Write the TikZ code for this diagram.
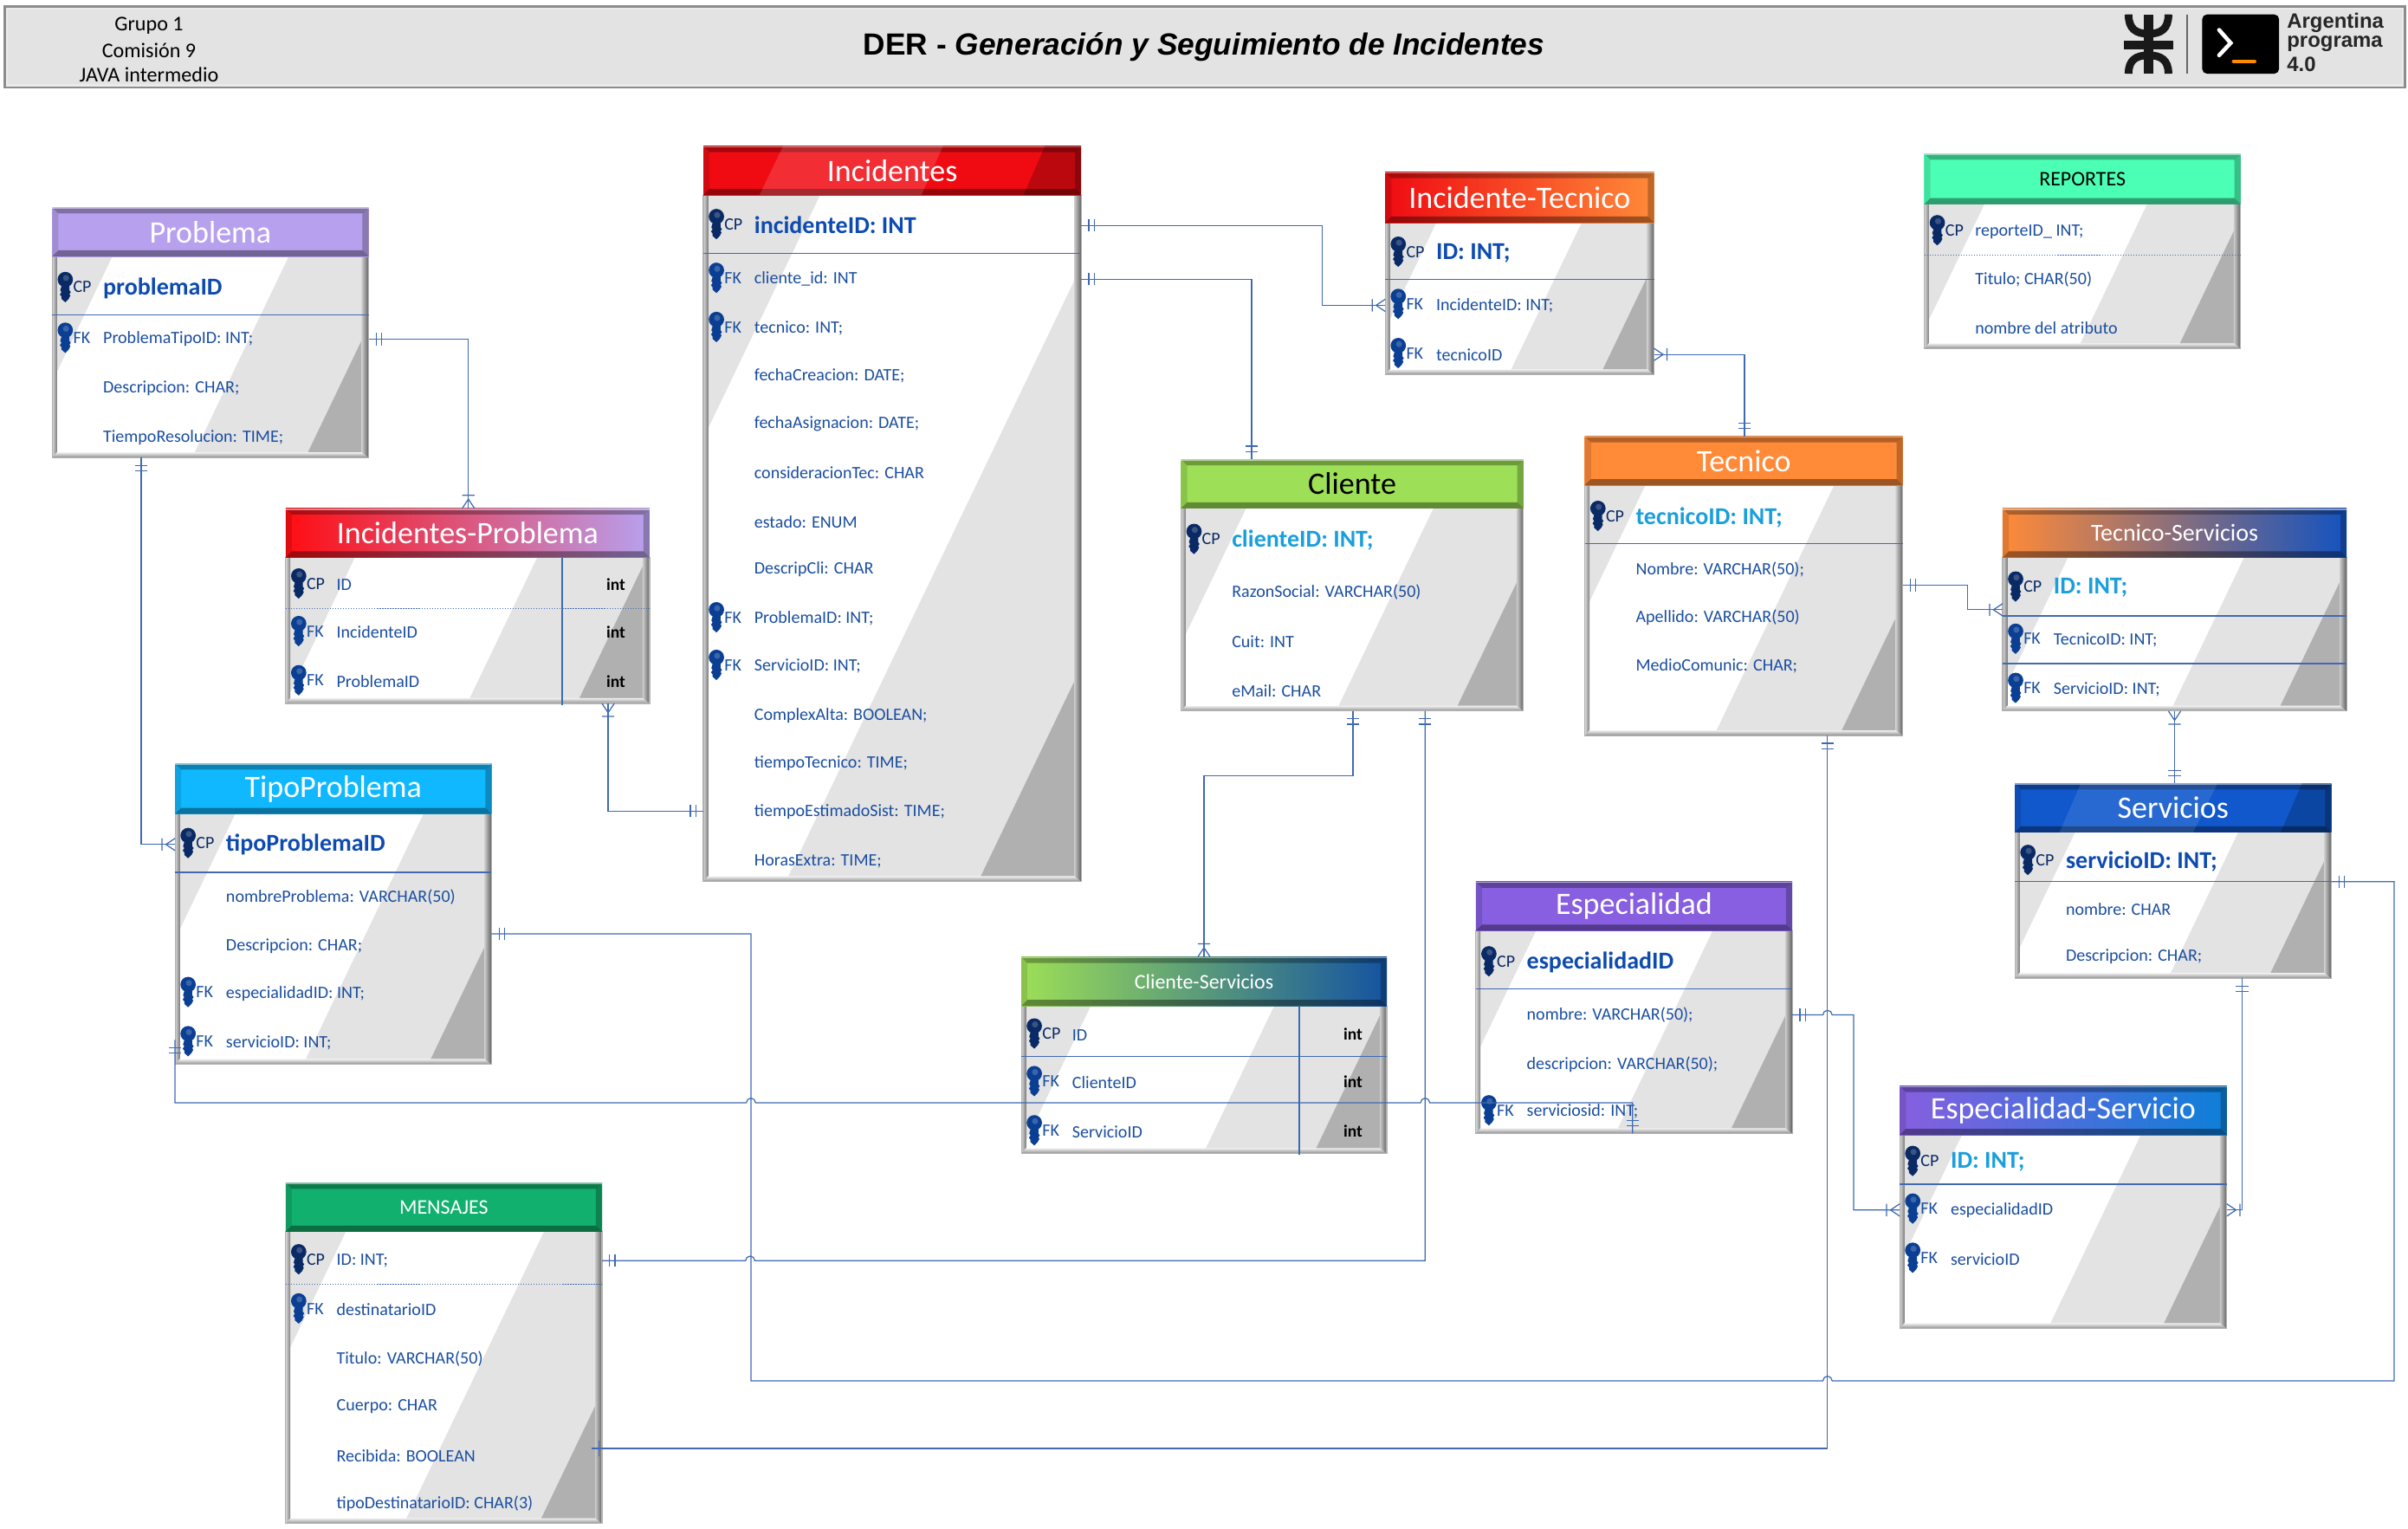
\documentclass[tikz,border=0pt]{standalone}
\usepackage{fontspec}
\setmainfont{Carlito}
\newfontfamily\fuenteTitulo{Liberation Sans}
\definecolor{azulLinea}{HTML}{3F6AB2}
\definecolor{azulCampo}{HTML}{1A4EA0}
\definecolor{azulClave}{HTML}{0D4BB0}
\definecolor{celeste}{HTML}{1A9FDC}
\definecolor{llaveCP}{HTML}{0A2A66}
\definecolor{llaveFK}{HTML}{0A3F94}
\definecolor{gBrillo}{HTML}{E3E3E3}
\definecolor{gOscuro}{HTML}{B0B0B0}
\definecolor{lila}{HTML}{B7A1EE}
\definecolor{rojoT}{HTML}{F00B12}
\definecolor{rojoV}{HTML}{FF0D12}
\definecolor{naranja}{HTML}{FF8A38}
\definecolor{menta}{HTML}{4BFFB5}
\definecolor{verdeC}{HTML}{9DDF56}
\definecolor{azulT}{HTML}{1453C0}
\definecolor{azulS}{HTML}{1058CC}
\definecolor{violeta}{HTML}{875FE0}
\definecolor{azulE}{HTML}{0D7FD8}
\definecolor{cian}{HTML}{10B9FF}
\definecolor{azulV}{HTML}{1453A0}
\definecolor{verdeM}{HTML}{12B06E}
\pgfdeclarearrow{name=erUno,
  setup code={\pgfarrowssettipend{0pt}\pgfarrowssetlineend{0pt}\pgfarrowssetbackend{-9pt}\pgfarrowssetvisualbackend{-9pt}},
  drawing code={
    \pgfpathmoveto{\pgfqpoint{-5pt}{-4pt}}\pgfpathlineto{\pgfqpoint{-5pt}{4pt}}
    \pgfpathmoveto{\pgfqpoint{-8.5pt}{-4pt}}\pgfpathlineto{\pgfqpoint{-8.5pt}{4pt}}
    \pgfusepathqstroke}}
\pgfdeclarearrow{name=erMuchos,
  setup code={\pgfarrowssettipend{0pt}\pgfarrowssetlineend{0pt}\pgfarrowssetbackend{-9pt}\pgfarrowssetvisualbackend{-9pt}},
  drawing code={
    \pgfpathmoveto{\pgfqpoint{0pt}{-4pt}}\pgfpathlineto{\pgfqpoint{-6pt}{0pt}}\pgfpathlineto{\pgfqpoint{0pt}{4pt}}
    \pgfpathmoveto{\pgfqpoint{-8.5pt}{-4pt}}\pgfpathlineto{\pgfqpoint{-8.5pt}{4pt}}
    \pgfusepathqstroke}}
\pgfdeclarearrow{name=erTick,
  setup code={\pgfarrowssettipend{0pt}\pgfarrowssetlineend{0pt}\pgfarrowssetbackend{-6pt}\pgfarrowssetvisualbackend{-6pt}},
  drawing code={
    \pgfpathmoveto{\pgfqpoint{-5pt}{-5pt}}\pgfpathlineto{\pgfqpoint{-5pt}{5pt}}
    \pgfusepathqstroke}}
\tikzset{
  conn/.style={draw=azulLinea, line width=.7pt},
  llave/.pic={
    \path[pic actions] (0,-5) circle[radius=5pt];
    \path[pic actions] (2.7,-1) -- (2.7,2) -- (3.6,3.2) -- (2.7,4.4) -- (3.3,5.5) -- (2.2,7.6) -- (0,9.8) -- (-2.5,7.6) -- (-2.5,6) -- (-3.5,4.8) -- (-2.5,3.2) -- (-3.3,2) -- (-2.4,-1) -- cycle;
    \fill[white, opacity=.2] (.5,-6) circle[radius=2pt];
  }
}
\newcommand{\tabla}[8]{
  \gdef\xizq{#2}\gdef\xder{#4}
  \pgfmathsetmacro\anchoT{#4-#2}
  \pgfmathsetmacro\altoT{#5-#3}
  \pgfmathsetmacro\altoC{#5-#6}
  \pgfmathsetmacro\altoH{#6-#3}
  \pgfmathsetmacro\pata{max(.19*\anchoT,.17*\altoC)}
  \pgfmathsetmacro\pataO{max(.2*\anchoT,.15*\altoC)}
  \pgfmathsetmacro\cenX{(#2+#4)/2}
  \pgfmathsetmacro\cenY{(#5+#6)/2}
  \pgfmathsetmacro\xArr{\cenX+.5*\pata+.48*\altoC/2}
  \pgfmathsetmacro\xAba{\cenX+.5*\pata-.48*\altoC/2}
  \pgfmathsetmacro\vert{\pata/.48}
  \pgfmathsetmacro\vertO{\pataO/.48}
  \node[cuerpo, minimum width=\anchoT pt, minimum height=\altoT pt] (#1) at (\cenX,{(#3+#5)/2}) {};
  \begin{scope}
    \clip (#2,#6) rectangle (#4,#5);
    \fill[gBrillo] (\xArr,#6) -- (\xAba,#5) -- (#4+600,#5) -- (#4+600,#6) -- cycle;
    \fill[gBrillo] (#2,#6) -- (#2+\pata,#6) -- (#2,#6+\vert) -- cycle;
    \fill[gOscuro] (#4,#5) -- (#4-\pataO,#5) -- (#4,#5-\vertO) -- cycle;
  \end{scope}
  \shade[left color=black!15, right color=black!50] (#2,#6) rectangle (#2+3,#5);
  \shade[left color=black!20, right color=black!62] (#4-4.5,#6) rectangle (#4,#5);
  \shade[top color=black!6, bottom color=black!45] (#2,#5) -- (#2+3,#5-3.5) -- (#4-4.5,#5-3.5) -- (#4,#5) -- cycle;
  \draw[black!30, line width=.6pt] (#2,#6) rectangle (#4,#5);
  \node[cabecera, left color=#7, right color=#8, minimum width=\anchoT pt, minimum height=\altoH pt] (#1H) at (\cenX,{(#3+#6)/2}) {};
  \fill[black, opacity=.3] (#2,#3) -- (#2+4,#3+4) -- (#4-4,#3+4) -- (#4,#3) -- cycle;
  \fill[black, opacity=.38] (#2,#6) -- (#2+4,#6-4) -- (#4-4,#6-4) -- (#4,#6) -- cycle;
  \fill[black, opacity=.12] (#2,#3) -- (#2+4,#3+4) -- (#2+4,#6-4) -- (#2,#6) -- cycle;
  \fill[black, opacity=.25] (#4,#3) -- (#4-4,#3+4) -- (#4-4,#6-4) -- (#4,#6) -- cycle;
  \draw[white, opacity=.5, line width=.9pt] (#2,#3+.5) -- (#4,#3+.5);
}
\newcommand{\campo}[3]{\node[campotxt] (#1) at (\xizq+33,#2+.8) {#3};}
\newcommand{\llavecp}[1]{
  \pic[fill=llaveCP] at (\xizq+8.5,#1) {llave};
  \node[etiq, text=llaveCP] at (\xizq+13.5,#1) {CP};}
\newcommand{\llavefk}[1]{
  \pic[fill=llaveFK] at (\xizq+8.5,#1) {llave};
  \node[etiq, text=azulCampo] at (\xizq+13.5,#1) {FK};}
\newcommand{\cpn}[3]{\llavecp{#2}\campo{#1}{#2}{#3}}
\newcommand{\fk}[3]{\llavefk{#2}\campo{#1}{#2}{#3}}
\newcommand{\pk}[3]{\llavecp{#2}\node[clavetxt] (#1) at (\xizq+33,#2+.8) {#3};}
\newcommand{\pkc}[3]{\llavecp{#2}\node[clavetxt, text=celeste] (#1) at (\xizq+33,#2+.8) {#3};}
\newcommand{\sep}[1]{\draw[conn] (\xizq,#1) -- (\xder,#1);}
\newcommand{\sepd}[1]{\draw[conn, densely dotted, line width=.6pt] (\xizq,#1) -- (\xder,#1);}

\begin{document}
\begin{tikzpicture}[x=1pt, y=-1pt]
\tikzstyle{cuerpo} = [rectangle, fill=white, inner sep=0pt, outer sep=0pt]
\tikzstyle{cabecera} = [rectangle, inner sep=0pt, outer sep=0pt]
\tikzstyle{titulo} = [text=white, font=\fontsize{20.3}{20}\selectfont, inner sep=0pt]
\tikzstyle{tituloN} = [text=black, font=\fontsize{20.3}{20}\selectfont, inner sep=0pt]
\tikzstyle{tituloS} = [text=white, font=\fontsize{13.5}{14}\selectfont, inner sep=0pt]
\tikzstyle{campotxt} = [anchor=west, text=azulCampo, inner sep=0pt, font=\fontsize{11.3}{12}\selectfont]
\tikzstyle{clavetxt} = [anchor=west, text=azulClave, inner sep=0pt, font=\fontsize{15.8}{16}\selectfont\bfseries]
\tikzstyle{etiq} = [anchor=west, inner sep=0pt, font=\fontsize{11.3}{12}\selectfont]
\tikzstyle{tipoint} = [text=black, inner sep=0pt, font=\fontsize{11}{12}\selectfont\bfseries]
\tikzstyle{grupo} = [text=black, inner sep=0pt, font=\fontsize{13.6}{14}\selectfont]
\tikzstyle{logotxt} = [anchor=west, text=black!85, inner sep=0pt, font=\fuenteTitulo\bfseries\fontsize{13.5}{13}\selectfont]

\useasboundingbox (0,0) rectangle (1568,994.96);

\node[rectangle, fill=gBrillo, draw=black!45, line width=1.6pt, minimum width=1563pt, minimum height=53pt, inner sep=0pt] (banda) at (784.5,30.5) {};
\draw[white!92!black, line width=1.4pt] (4.5,5.5) rectangle (1564.5,55.5);
\node[grupo] (grupoA) at (97,16.8) {Grupo 1};
\node[grupo] (grupoB) at (97,32.8) {Comisión 9};
\node[grupo] (grupoC) at (97,48.8) {JAVA intermedio};
\node[inner sep=0pt, font=\fuenteTitulo\bfseries\fontsize{19.9}{20}\selectfont] (tituloDer) at (784,30.5) {DER - \itshape Generación y Seguimiento de Incidentes};

\fill[black!90] (1396,9.4) rectangle (1402,48);
\fill[black!90] (1383,26.5) rectangle (1415,32);
\draw[black!90, line width=5pt] (1386,9.4) .. controls (1386,19) and (1391,22) .. (1399,22) .. controls (1407,22) and (1412,19) .. (1412,9.4);
\draw[black!90, line width=5pt] (1386,48) .. controls (1386,39) and (1391,36) .. (1399,36) .. controls (1407,36) and (1412,39) .. (1412,48);
\draw[black!60, line width=.9pt] (1424,9.4) -- (1424,48);
\node[rectangle, rounded corners=3pt, fill=black, minimum width=50pt, minimum height=38.5pt, inner sep=0pt] (terminal) at (1459,28.7) {};
\draw[white, line width=2.6pt, line cap=round] (1445,19.5) -- (1452.5,28) -- (1445,36);
\draw[orange!90!yellow, line width=2.6pt, line cap=round] (1454.5,40) -- (1468,40);
\node[logotxt] (logoA) at (1489,15) {Argentina};
\node[logotxt] (logoB) at (1489,28.5) {programa};
\node[logotxt] (logoC) at (1489,42) {4.0};

\tabla{problema}{34}{135}{240}{298}{167}{lila}{lila}
\node[titulo] (problemaT) at (problemaH) {Problema};
\sep{205}
\pk{prob1}{187}{problemaID}
\fk{prob2}{220}{ProblemaTipoID: INT;}
\campo{prob3}{252}{Descripcion: CHAR;}
\campo{prob4}{284}{TiempoResolucion: TIME;}

\tabla{incidentes}{458}{95}{704}{574}{127}{rojoT}{rojoT}
\fill[white, opacity=.14] (510,95) -- (494.5,127) -- (600,127) -- (614,95) -- cycle;
\fill[black, opacity=.22] (680.5,95) -- (666.5,127) -- (704,127) -- (704,95) -- cycle;
\node[titulo] (incidentesT) at (incidentesH) {Incidentes};
\sep{165}
\pk{inc1}{146}{incidenteID: INT}
\fk{inc2}{181}{cliente\_id: INT}
\fk{inc3}{213}{tecnico: INT;}
\campo{inc4}{244}{fechaCreacion: DATE;}
\campo{inc5}{275}{fechaAsignacion: DATE;}
\campo{inc6}{307}{consideracionTec: CHAR}
\campo{inc7}{339}{estado: ENUM}
\campo{inc8}{370}{DescripCli: CHAR}
\fk{inc9}{402}{ProblemaID: INT;}
\fk{inc10}{433}{ServicioID: INT;}
\campo{inc11}{465}{ComplexAlta: BOOLEAN;}
\campo{inc12}{496}{tiempoTecnico: TIME;}
\campo{inc13}{528}{tiempoEstimadoSist: TIME;}
\campo{inc14}{560}{HorasExtra: TIME;}

\tabla{incidenteTecnico}{902}{112}{1077}{244}{145}{rojoT}{naranja}
\node[titulo] (incidenteTecnicoT) at (incidenteTecnicoH) {Incidente-Tecnico};
\sep{182}
\pk{itec1}{164}{ID: INT;}
\fk{itec2}{198}{IncidenteID: INT;}
\fk{itec3}{230}{tecnicoID}

\tabla{reportes}{1253}{100}{1459}{227}{133}{menta}{menta}
\node[tituloS, text=black] (reportesT) at (reportesH) {REPORTES};
\sepd{166}
\cpn{rep1}{150}{reporteID\_ INT;}
\campo{rep2}{181}{Titulo; CHAR(50)}
\campo{rep3}{213}{nombre del atributo}

\tabla{cliente}{769}{299}{992}{463}{331}{verdeC}{verdeC}
\node[tituloN] (clienteT) at (clienteH) {Cliente};
\pkc{cli1}{351}{clienteID: INT;}
\campo{cli2}{385}{RazonSocial: VARCHAR(50)}
\campo{cli3}{417}{Cuit: INT}
\campo{cli4}{449}{eMail: CHAR}

\tabla{tecnico}{1032}{284}{1239}{479}{316}{naranja}{naranja}
\node[titulo] (tecnicoT) at (tecnicoH) {Tecnico};
\sep{354}
\pkc{tec1}{336}{tecnicoID: INT;}
\campo{tec2}{370}{Nombre: VARCHAR(50);}
\campo{tec3}{401}{Apellido: VARCHAR(50)}
\campo{tec4}{433}{MedioComunic: CHAR;}

\tabla{tecnicoServicios}{1304}{331}{1528}{463}{363}{naranja}{azulT}
\node[tituloS, font=\fontsize{15.8}{16}\selectfont] (tecnicoServiciosT) at (tecnicoServiciosH) {Tecnico-Servicios};
\sep{401}
\sep{432}
\pkc{tser1}{382}{ID: INT;}
\fk{tser2}{416}{TecnicoID: INT;}
\fk{tser3}{448}{ServicioID: INT;}

\tabla{servicios}{1312}{510}{1518}{637}{542}{azulS}{azulS}
\fill[white, opacity=.1] (1355,510) -- (1341,542) -- (1428,542) -- (1444,510) -- cycle;
\fill[black, opacity=.2] (1499,510) -- (1485,542) -- (1518,542) -- (1518,510) -- cycle;
\node[titulo] (serviciosT) at (serviciosH) {Servicios};
\sep{574}
\pk{ser1}{560}{servicioID: INT;}
\campo{ser2}{591}{nombre: CHAR}
\campo{ser3}{622}{Descripcion: CHAR;}

\tabla{especialidad}{961}{574}{1167}{738}{606}{violeta}{violeta}
\node[titulo] (especialidadT) at (especialidadH) {Especialidad};
\sep{644}
\pk{esp1}{626}{especialidadID}
\campo{esp2}{660}{nombre: VARCHAR(50);}
\campo{esp3}{692}{descripcion: VARCHAR(50);}
\fk{esp4}{723}{serviciosid: INT;}

\tabla{especialidadServicio}{1237}{707}{1450}{865}{739}{violeta}{azulE}
\node[titulo] (especialidadServicioT) at (especialidadServicioH) {Especialidad-Servicio};
\sep{771}
\pkc{essr1}{756}{ID: INT;}
\fk{essr2}{787}{especialidadID}
\fk{essr3}{819}{servicioID}

\tabla{incidentesProblema}{186}{331}{423}{458}{363}{rojoV}{lila}
\node[titulo] (incidentesProblemaT) at (incidentesProblemaH) {Incidentes-Problema};
\sepd{396}
\cpn{ipr1}{380}{ID}
\fk{ipr2}{411}{IncidenteID}
\fk{ipr3}{443}{ProblemaID}
\draw[conn] (incidentesProblema.south -| 366,0) ++(0,1) -- (366,363);
\node[tipoint] (iprT1) at (401,380.5) {int};
\node[tipoint] (iprT2) at (401,411.5) {int};
\node[tipoint] (iprT3) at (401,443.5) {int};

\tabla{tipoProblema}{114}{497}{320}{693}{530}{cian}{cian}
\node[titulo] (tipoProblemaT) at (tipoProblemaH) {TipoProblema};
\sep{568}
\pk{tipo1}{549}{tipoProblemaID}
\campo{tipo2}{583}{nombreProblema: VARCHAR(50)}
\campo{tipo3}{615}{Descripcion: CHAR;}
\fk{tipo4}{646}{especialidadID: INT;}
\fk{tipo5}{678}{servicioID: INT;}

\tabla{clienteServicios}{665}{623}{903}{751}{655}{verdeC}{azulV}
\node[tituloS] (clienteServiciosT) at (clienteServiciosH) {Cliente-Servicios};
\sep{688}
\cpn{cser1}{673}{ID}
\fk{cser2}{704}{ClienteID}
\fk{cser3}{736}{ServicioID}
\draw[conn] (clienteServicios.south -| 846,0) ++(0,1) -- (846,655);
\node[tipoint] (cserT1) at (881,673.5) {int};
\node[tipoint] (cserT2) at (881,704.5) {int};
\node[tipoint] (cserT3) at (881,736.5) {int};

\tabla{mensajes}{186}{770}{392}{992}{802}{verdeM}{verdeM}
\node[tituloS] (mensajesT) at (mensajesH) {MENSAJES};
\sepd{836}
\cpn{men1}{820}{ID: INT;}
\fk{men2}{852}{destinatarioID}
\campo{men3}{884}{Titulo: VARCHAR(50)}
\campo{men4}{915}{Cuerpo: CHAR}
\campo{men5}{947}{Recibida: BOOLEAN}
\campo{men6}{978}{tipoDestinatarioID: CHAR(3)}

\coordinate (menFin) at (385,943);

\draw [conn, erUno-erMuchos] (incidentes.east |- inc1) -| (861,170) |- (incidenteTecnico.west |- itec2);
\draw [conn, erUno-erUno] (incidentes.east |- inc2) -| (cliente.north -| 815,0);
\draw [conn, erMuchos-erUno] (incidenteTecnico.east |- itec3) -| (tecnico.north -| 1136,0);
\draw [conn, erUno-erMuchos] (problema.east |- prob2) -| (incidentesProblema.north -| 305,0);
\draw [conn, erMuchos-erUno] (incidentesProblema.south -| 396,0) |- (incidentes.west |- 0,528);
\draw [conn, erUno-erMuchos] (problema.south -| 92,0) |- (tipoProblema.west |- tipo1);
\draw [conn, erUno-erMuchos] (cliente.south -| 881,0) |- (784,505) -- (clienteServicios.north);
\draw [conn, erUno-erUno] (cliente.south -| 928,0) |- (491.5,820.8) arc[start angle=0, end angle=180, radius=3pt] -- (mensajes.east |- men1);
\draw [conn, erUno-erUno] (tipoProblema.east |- 0,608) -| (489,899) -- (1187,899) arc[start angle=180, end angle=0, radius=3pt] -| (1559,700) |- (servicios.east |- 0,574);
\draw [conn, erUno-erUno] (tipoProblema.west |- 0,677) |- (486,718) arc[start angle=180, end angle=0, radius=3pt] -- (925,718) arc[start angle=180, end angle=0, radius=3pt] -| (especialidad.south -| 1063,0);
\draw [conn, erUno-erTick] (tecnico.south -| 1190,0) |- (menFin);
\draw [conn, erUno-erMuchos] (especialidad.east |- esp2) -- (1187,660.8) arc[start angle=180, end angle=0, radius=3pt] -| (1207,700) |- (especialidadServicio.west |- essr2);
\draw [conn, erUno-erMuchos] (servicios.south -| 1460,0) |- (especialidadServicio.east |- essr2);
\draw [conn, erUno-erMuchos] (tecnico.east |- 0,381) -| (1281,390) |- (tecnicoServicios.west |- 0,397);
\draw [conn, erMuchos-erUno] (tecnicoServicios.south -| 1416,0) -- (servicios.north -| 1416,0);

\end{tikzpicture}
\end{document}
